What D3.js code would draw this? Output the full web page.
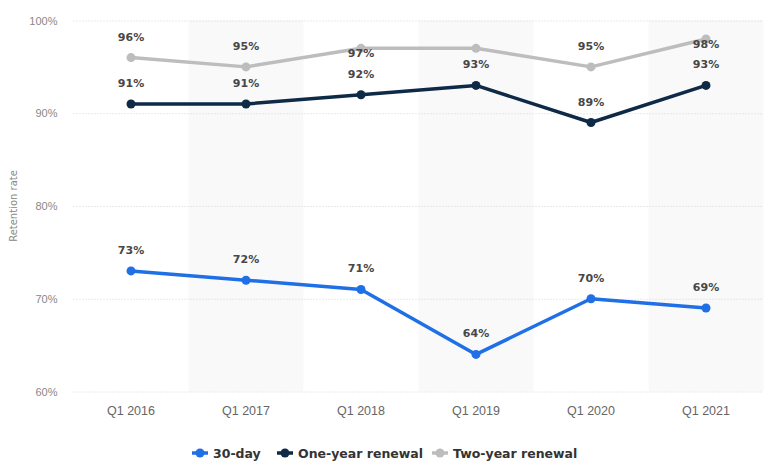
<!DOCTYPE html>
<html><head><meta charset="utf-8">
<script src="https://cdn.jsdelivr.net/npm/d3@7"></script>
<style>body{margin:0;background:#fff;}svg{display:block;font-family:"DejaVu Sans",Verdana,sans-serif;}</style>
</head><body>
<svg id="c" width="769" height="472"></svg>
<script>
const categories = ["Q1 2016","Q1 2017","Q1 2018","Q1 2019","Q1 2020","Q1 2021"];
const thirtyDay = [73,72,71,64,70,69];
const oneYear = [91,91,92,93,89,93];
const twoYear = [96,95,97,97,95,98];
const yTicks = [60,70,80,90,100];
const seriesNames = ["30-day","One-year renewal","Two-year renewal"];
const seriesColors = ["#1f6fe6","#0e2a47","#bdbdbd"];

const series = [thirtyDay, oneYear, twoYear].map((v,i)=>({name:seriesNames[i], color:seriesColors[i], values:v}));

const svg = d3.select("#c");
const pL = 73.5, pR = 763.5, pT = 20.5, pB = 391.5;
const x = d3.scaleBand().domain(categories).range([pL,pR]);
const y = d3.scaleLinear().domain([60,100]).range([pB,pT]);
const cx = i => x(categories[i]) + x.bandwidth()/2;

// alternating bands
svg.append("g").selectAll("rect").data(categories.filter((d,i)=>i%2===1)).join("rect")
  .attr("x",d=>x(d)).attr("y",pT).attr("width",x.bandwidth()).attr("height",pB-pT)
  .attr("fill","#f9f9f9");

// grid
const yAxis = d3.axisLeft(y).tickValues(yTicks).tickFormat(d=>d+"%").tickSize(-(pR-pL)).tickPadding(14);
const gy = svg.append("g").attr("transform",`translate(${pL},0)`).call(yAxis);
gy.select(".domain").remove();
gy.selectAll(".tick line").attr("stroke","#d4d4d4").attr("stroke-dasharray","1,2");
gy.selectAll(".tick text").attr("fill","#888").style("font-size","11px").attr("x",-16);

const xAxis = d3.axisBottom(x).tickSize(0).tickPadding(15);
const gx = svg.append("g").attr("transform",`translate(0,${pB})`).call(xAxis);
gx.select(".domain").remove();
gx.selectAll(".tick text").attr("fill","#666").style("font-size","12.5px");

svg.append("text").attr("transform",`translate(17,${(pT+pB)/2}) rotate(-90)`)
  .attr("text-anchor","middle").attr("fill","#888").style("font-size","10px").text("Retention rate");

const line = d3.line().x((d,i)=>cx(i)).y(d=>y(d));
const lines = svg.append("g");
series.forEach(s=>{
  lines.append("path").attr("d",line(s.values)).attr("fill","none").attr("stroke",s.color).attr("stroke-width",3.5).attr("stroke-linejoin","round");
  lines.selectAll(null).data(s.values).join("circle")
    .attr("cx",(d,i)=>cx(i)).attr("cy",d=>y(d)).attr("r",4.5).attr("fill",s.color);
});

// data labels with top-justify and overlap hiding
const placed = categories.map(()=>[]);
const labels = svg.append("g");
series.forEach(s=>{
  s.values.forEach((d,i)=>{
    let c = y(d) - 21;
    if (c - 10.5 < pT) c = y(d) + 4.5;
    if (placed[i].some(p=>Math.abs(p-c) < 20)) return;
    placed[i].push(c);
    labels.append("text").attr("x",cx(i)).attr("y",c+4)
      .attr("text-anchor","middle").attr("fill","#474747").style("font-size","11px").style("font-weight","bold")
      .text(d+"%");
  });
});

// legend
const legend = svg.append("g").attr("transform","translate(0,453)");
const lx = [192,277,432];
series.forEach((s,i)=>{
  const g = legend.append("g").attr("transform",`translate(${lx[i]},0)`);
  g.append("line").attr("x1",0).attr("x2",16).attr("y1",0).attr("y2",0).attr("stroke",s.color).attr("stroke-width",3.5);
  g.append("circle").attr("cx",8).attr("cy",0).attr("r",4.5).attr("fill",s.color);
  g.append("text").attr("x",21).attr("y",4.5).attr("fill","#333").style("font-size","12.5px").style("font-weight","bold").text(s.name);
});
</script>
</body></html>
